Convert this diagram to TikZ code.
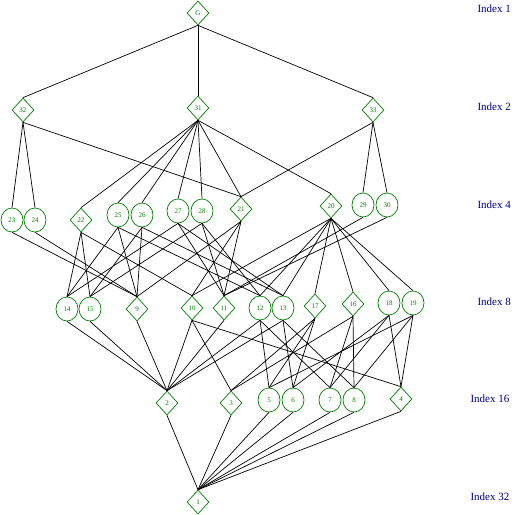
\documentclass[tikz,border=0pt]{standalone}
\usepackage{fontspec}
\setmainfont{Liberation Serif}
\usetikzlibrary{shapes.geometric}
\definecolor{nodegreen}{RGB}{0,128,0}
\definecolor{idxblue}{RGB}{0,0,128}
\tikzset{
  sub/.style={draw=nodegreen, text=nodegreen, inner sep=0pt, font=\fontsize{7}{8}\selectfont, line width=0.7pt},
  circ/.style={sub, ellipse, minimum width=22pt, minimum height=24pt},
  dia/.style={sub, diamond, minimum width=22pt, minimum height=24pt},
  idx/.style={text=idxblue, font=\fontsize{11}{13}\selectfont, anchor=west},
  edge/.style={draw=black, line width=0.7pt}
}
\begin{document}
\begin{tikzpicture}[x=1pt,y=-1pt]
\useasboundingbox (0,0) rectangle (515,515);
% index labels
\node[idx] (i1) at (474,9) {Index 1};
\node[idx] (i2) at (474,107) {Index 2};
\node[idx] (i4) at (474,205) {Index 4};
\node[idx] (i8) at (474,302) {Index 8};
\node[idx] (i16) at (467,399) {Index 16};
\node[idx] (i32) at (467,497) {Index 32};
% level 1
\node[dia] (G) at (198,13) {G};
% level 2
\node[dia] (n32) at (23,110) {32};
\node[dia] (n31) at (198,108) {31};
\node[dia] (n33) at (373,110) {33};
% level 4
\node[circ] (n23) at (12,220) {23};
\node[circ] (n24) at (35,220) {24};
\node[dia] (n22) at (81,220) {22};
\node[circ] (n25) at (118,215) {25};
\node[circ] (n26) at (142,215) {26};
\node[circ] (n27) at (178,211) {27};
\node[circ] (n28) at (202,211) {28};
\node[dia] (n21) at (241,209) {21};
\node[dia] (n20) at (331,206) {20};
\node[circ] (n29) at (363,205) {29};
\node[circ] (n30) at (387,205) {30};
% level 8
\node[circ] (n14) at (67,309) {14};
\node[circ] (n15) at (90,309) {15};
\node[dia] (n9) at (137,309) {9};
\node[dia] (n10) at (192,308) {10};
\node[dia] (n11) at (224,308) {11};
\node[circ] (n12) at (260,308) {12};
\node[circ] (n13) at (283,308) {13};
\node[dia] (n17) at (315,306) {17};
\node[dia] (n16) at (353,304) {16};
\node[circ] (n18) at (389,303) {18};
\node[circ] (n19) at (413,303) {19};
% level 16
\node[dia] (n2) at (167,403) {2};
\node[dia] (n3) at (231,403) {3};
\node[circ] (n5) at (269,400) {5};
\node[circ] (n6) at (293,400) {6};
\node[circ] (n7) at (330,400) {7};
\node[circ] (n8) at (354,400) {8};
\node[dia] (n4) at (401,399) {4};
% level 32
\node[dia] (n1) at (198,502) {1};
% edges
\foreach \a/\b in {G/n32,G/n31,G/n33,
  n32/n23,n32/n24,n32/n21,
  n31/n22,n31/n25,n31/n26,n31/n27,n31/n28,n31/n21,n31/n20,
  n33/n29,n33/n30,n33/n21,
  n23/n9,n24/n9,
  n22/n14,n22/n15,n22/n10,
  n25/n14,n25/n9,n25/n12,
  n26/n15,n26/n9,n26/n13,
  n27/n14,n27/n11,n27/n13,
  n28/n15,n28/n11,n28/n12,
  n21/n9,n21/n10,n21/n11,
  n20/n10,n20/n12,n20/n13,n20/n17,n20/n16,n20/n18,n20/n19,
  n29/n11,n30/n11,
  n14/n2,n15/n2,n9/n2,n11/n2,
  n10/n2,n10/n3,n10/n4,
  n12/n2,n12/n5,n12/n7,
  n13/n2,n13/n6,n13/n8,
  n17/n3,n17/n5,n17/n6,
  n16/n3,n16/n7,n16/n8,
  n18/n4,n18/n6,n18/n7,
  n19/n4,n19/n5,n19/n8,
  n2/n1,n3/n1,n5/n1,n6/n1,n7/n1,n8/n1,n4/n1}
  \draw[edge] (\a.south) -- (\b.north);
\end{tikzpicture}
\end{document}
